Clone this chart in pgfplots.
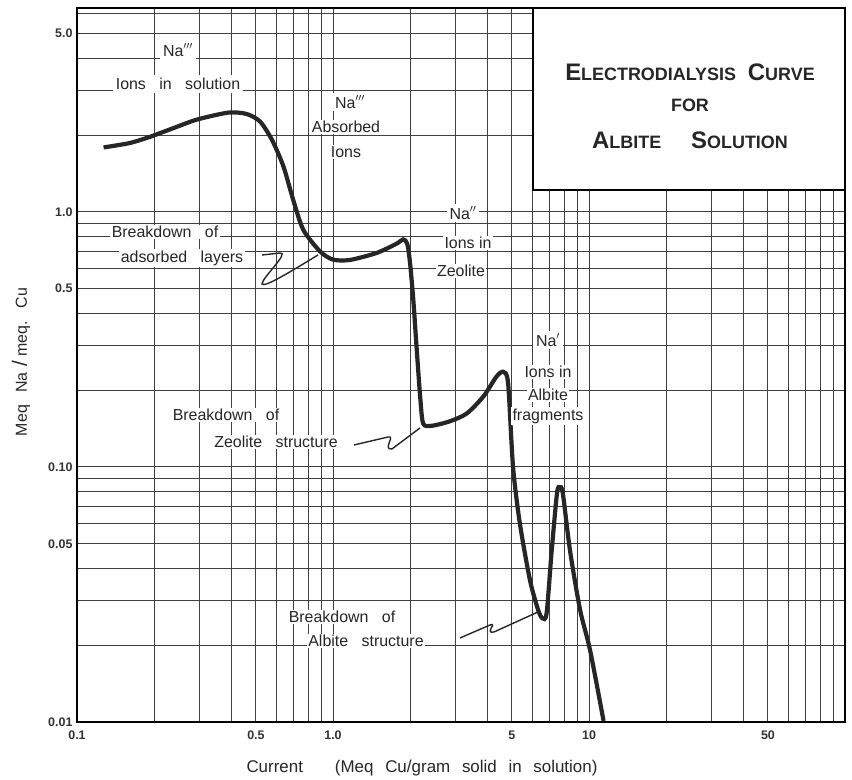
\documentclass[border=0pt]{standalone}
\usepackage{fontspec}
\setmainfont{Liberation Sans}
\usepackage{pgfplots}
\pgfplotsset{compat=1.18}
\newcommand{\SCap}[2]{{\fontsize{24}{24}\selectfont #1}{\fontsize{18}{18}\selectfont #2}}
\newcommand{\lab}{\fontsize{16}{18}\selectfont}
\begin{document}
\begin{tikzpicture}
\useasboundingbox (-77bp,-58bp) rectangle (775bp,722bp);
\begin{axis}[
  at={(0,0)}, anchor=south west,
  scale only axis, width=768bp, height=714bp,
  xmode=log, ymode=log,
  xmin=0.1, xmax=100, ymin=0.01, ymax=6.3,
  xtick={0.1,0.2,0.3,0.4,0.5,0.6,0.7,0.8,0.9,1,2,3,4,5,6,7,8,9,10,20,30,40,50,60,70,80,90,100},
  xticklabels={0.1,,,,0.5,,,,,1.0,,,,5,,,,,10,,,,50,,,,,},
  ytick={0.01,0.02,0.03,0.04,0.05,0.06,0.07,0.08,0.09,0.1,0.2,0.3,0.4,0.5,0.6,0.7,0.8,0.9,1,2,3,4,5,6},
  yticklabels={0.01,,,,0.05,,,,,0.10,,,,0.5,,,,,1.0,,,,5.0,},
  grid=major, major grid style={black!75, line width=1bp},
  major tick length=0pt,
  axis line style={line width=2.4bp},
  tick label style={font=\fontsize{12.5}{12.5}\selectfont\bfseries, text=black!80},
  xticklabel style={yshift=-5bp},
  yticklabel style={xshift=-1bp},
]
\addplot[black!85, line width=4.2bp, smooth, tension=0.45] coordinates {
(0.127,1.79) (0.16,1.86) (0.193,1.97) (0.238,2.13) (0.294,2.30) (0.39,2.45)
(0.46,2.42) (0.519,2.26) (0.577,1.92) (0.64,1.51) (0.70,1.11) (0.766,0.85)
(0.89,0.70) (1.0,0.65) (1.165,0.648) (1.48,0.69) (1.77,0.75) (1.88,0.78)
(1.95,0.75) (2.0,0.63) (2.06,0.45) (2.12,0.296) (2.19,0.189) (2.25,0.148)
(2.43,0.145) (2.86,0.151) (3.33,0.162) (3.87,0.189) (4.35,0.226) (4.63,0.236)
(4.83,0.213) (5.05,0.10) (5.37,0.060) (5.88,0.036) (6.33,0.0275) (6.58,0.0255)
(6.83,0.0267) (7.15,0.047) (7.5,0.0789) (7.68,0.0832) (7.9,0.079) (8.43,0.047)
(9.23,0.0275) (10.1,0.0191) (11.4,0.0101)
};
\end{axis}
\begin{scope}[x=1bp,y=-1bp,shift={(-77bp,722bp)}]
  % title box
  \draw[line width=2bp, fill=white] (533,8) rectangle (845,190);
  \node[font=\bfseries, text=black!85] at (690,72) {\SCap{E}{LECTRODIALYSIS}\hspace{12bp}\SCap{C}{URVE}};
  \node[font=\bfseries, text=black!85] at (690,105) {\SCap{}{FOR}};
  \node[font=\bfseries, text=black!85] at (690,140) {\SCap{A}{LBITE}\hspace{30bp}\SCap{S}{OLUTION}};
  % labels
  \begin{scope}[every node/.style={fill=white, inner sep=3bp, font=\lab, text=black!85}]
    \node at (178,50) {Na$'''$};
    \node at (178,84) {Ions\hspace{9bp} in\hspace{9bp} solution};
    \node at (350,102) {Na$'''$};
    \node[inner sep=1.5bp] at (346,127) {Absorbed};
    \node[inner sep=1.5bp] at (346,152) {Ions};
    \node[inner sep=1.5bp] at (165,232) {Breakdown\hspace{9bp} of};
    \node[inner sep=1.5bp] at (182,258) {adsorbed\hspace{9bp} layers};
    \node at (463,213) {Na$''$};
    \node[inner sep=1.5bp] at (468,243) {Ions in};
    \node[inner sep=1.5bp] at (461,271) {Zeolite};
    \node at (548,340) {Na$'$};
    \node[inner sep=1.5bp] at (548,372) {Ions in};
    \node[inner sep=1.5bp] at (548,395) {Albite};
    \node[inner sep=1.5bp] at (548,416) {fragments};
    \node[inner sep=1.5bp] at (226,415) {Breakdown\hspace{9bp} of};
    \node[inner sep=1.5bp] at (276,442) {Zeolite\hspace{9bp} structure};
    \node[inner sep=1.5bp] at (342,617) {Breakdown\hspace{9bp} of};
    \node[inner sep=1.5bp] at (366,641) {Albite\hspace{9bp} structure};
  \end{scope}
  % leaders
  \draw[line width=1.4bp, black!85] (262,255) -- (280,253) .. controls (290,252) and (262,278) .. (262,284) .. controls (264,288) and (290,272) .. (318,255);
  \draw[line width=1.4bp, black!85] (354,445) -- (388,437) .. controls (396,435) and (382,450) .. (392,449) -- (420,428);
  \draw[line width=1.4bp, black!85] (460,638) -- (490,625) .. controls (498,622) and (484,634) .. (494,632) -- (538,612);
  % axis labels
  \node[font=\fontsize{17}{17}\selectfont, text=black!85, anchor=west] at (243,768) {Current\hspace{32bp}(Meq\hspace{7bp} Cu{\LARGE/}gram\hspace{7bp} solid\hspace{7bp} in\hspace{7bp} solution)};
  \node[font=\fontsize{16}{16}\selectfont, text=black!85, rotate=90] at (21,362) {Meq\hspace{8bp} Na\hspace{6bp}{\huge/}\hspace{4bp}meq.\hspace{7bp} Cu};
\end{scope}
\end{tikzpicture}
\end{document}
